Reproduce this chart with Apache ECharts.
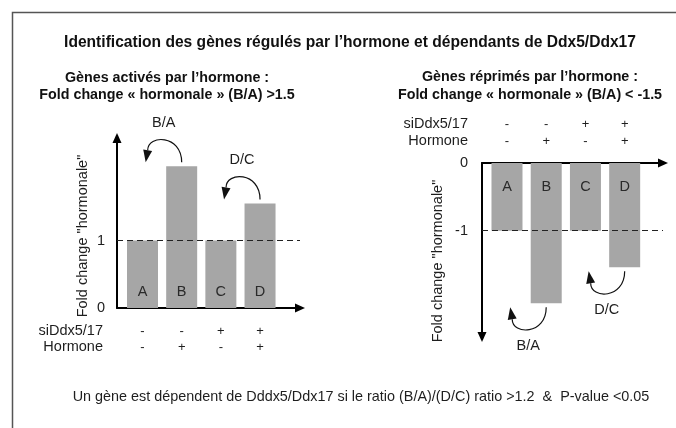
<!DOCTYPE html>
<html>
<head>
<meta charset="utf-8">
<script src="https://cdn.jsdelivr.net/npm/echarts@6/dist/echarts.min.js"></script>
<style>
  html, body { margin: 0; padding: 0; background: #ffffff; }
  #chart { width: 676px; height: 428px; }
</style>
</head>
<body>
<div id="chart"></div>
<script>
// Conditions A-D and their treatment rows
const categories = ['A', 'B', 'C', 'D'];
const siDdxRow = ['-', '-', '+', '+'];
const hormoneRow = ['-', '+', '-', '+'];

// Fold change "hormonale" per condition
const activatedValues = [1, 2.1, 1, 1.55];
const repressedValues = [-1, -2.07, -1, -1.54];

// Labelled ticks and the reference level of each panel
const activatedTicks = [0, 1];
const repressedTicks = [0, -1];
const activatedLevel = 1;
const repressedLevel = -1;

// Ratios pointed out by the curved arrows: [numerator, denominator] indices
const ratioPairs = [[1, 0], [3, 2]];

const FONT = "'Liberation Sans', Arial, sans-serif";
const INK = '#1e1e1e';
const BAR = '#a6a6a6';

const positions = categories.map((c, i) => i + 1);

function valueAxisLine(symbol) {
  return {
    show: true,
    onZero: false,
    symbol: symbol,
    symbolSize: [9, 10],
    lineStyle: { color: '#000', width: 2 }
  };
}

function signLabels(margin, lineHeight) {
  return {
    show: true,
    customValues: positions,
    margin: margin,
    lineHeight: lineHeight,
    fontSize: 13,
    fontFamily: FONT,
    color: INK,
    formatter: v => siDdxRow[Math.round(v) - 1] + '\n' + hormoneRow[Math.round(v) - 1]
  };
}

function barSeries(gridIdx, values, level, labelPos, labelDist) {
  return {
    type: 'bar',
    xAxisIndex: gridIdx,
    yAxisIndex: gridIdx,
    barWidth: 31,
    data: values.map((v, i) => [positions[i], v]),
    itemStyle: { color: BAR },
    label: {
      show: true,
      position: labelPos,
      distance: labelDist,
      fontSize: 14.5,
      fontFamily: FONT,
      color: '#2a2a2a',
      formatter: p => categories[p.dataIndex]
    },
    markLine: {
      silent: true,
      symbol: ['none', 'none'],
      label: { show: false },
      lineStyle: { color: '#222', width: 1, type: [6, 4] },
      data: [{ yAxis: level }]
    }
  };
}

const option = {
  animation: false,
  backgroundColor: '#ffffff',
  grid: [
    { left: 117, top: 138, width: 183, height: 170, outerBoundsMode: 'none' },
    { left: 482, top: 163, width: 181, height: 174, outerBoundsMode: 'none' }
  ],
  xAxis: [
    {
      type: 'value', gridIndex: 0, min: 0.349, max: 5.02,
      axisLine: valueAxisLine(['none', 'triangle']),
      axisTick: { show: false }, splitLine: { show: false },
      axisLabel: signLabels(15, 16)
    },
    {
      type: 'value', gridIndex: 1, position: 'top', min: 0.363, max: 4.977,
      axisLine: valueAxisLine(['none', 'triangle']),
      axisTick: { show: false }, splitLine: { show: false },
      axisLabel: signLabels(13.5, 17)
    }
  ],
  yAxis: [
    {
      type: 'value', gridIndex: 0, min: 0, max: 2.52,
      axisLine: valueAxisLine(['none', 'triangle']),
      axisTick: { show: false }, splitLine: { show: false },
      axisLabel: { customValues: activatedTicks, margin: 12, fontSize: 14.5, fontFamily: FONT, color: INK }
    },
    {
      type: 'value', gridIndex: 1, min: -2.57, max: 0,
      axisLine: valueAxisLine(['triangle', 'none']),
      axisTick: { show: false }, splitLine: { show: false },
      axisLabel: { customValues: repressedTicks, margin: 14, fontSize: 14.5, fontFamily: FONT, color: INK }
    }
  ],
  series: [
    barSeries(0, activatedValues, activatedLevel, 'insideBottom', 9),
    barSeries(1, repressedValues, repressedLevel, 'insideTop', 16)
  ]
};

const chart = echarts.init(document.getElementById('chart'));
chart.setOption(option);

function text(x, y, str, opts) {
  opts = opts || {};
  return {
    type: 'text',
    x: x, y: y,
    rotation: opts.rotation || 0,
    silent: true,
    style: {
      text: str,
      fill: opts.fill || INK,
      font: (opts.weight || 'normal') + ' ' + (opts.size || 14.5) + 'px ' + FONT,
      align: opts.align || 'center',
      verticalAlign: 'middle'
    }
  };
}

// Curved arrow from the numerator bar towards the denominator bar
function ratioArrow(gridIdx, values, pair) {
  const [num, den] = pair;
  const v = values[num];
  const dir = v < 0 ? 1 : -1;
  const p = chart.convertToPixel({ gridIndex: gridIdx }, [positions[num], v]);
  const sx = p[0], sy = p[1] + dir * 4;
  const tip = [sx - 36, sy];
  const base = [tip[0] + 2, sy + dir * 12];
  const bulge = sy + dir * 28;
  const dx = tip[0] - base[0], dy = tip[1] - base[1];
  const len = Math.hypot(dx, dy);
  const nx = -dy / len * 4.5, ny = dx / len * 4.5;
  return [
    {
      type: 'bezierCurve', silent: true,
      shape: { x1: sx, y1: sy, cpx1: sx, cpy1: bulge, cpx2: base[0], cpy2: bulge, x2: base[0], y2: base[1] },
      style: { stroke: '#111', lineWidth: 1.2, fill: null }
    },
    {
      type: 'polygon', silent: true,
      shape: { points: [tip, [base[0] + nx, base[1] + ny], [base[0] - nx, base[1] - ny]] },
      style: { fill: '#111' }
    },
    text(sx - 18, sy + dir * 39, categories[num] + '/' + categories[den])
  ];
}

const graphics = [
  {
    type: 'polyline', silent: true,
    shape: { points: [[12.5, 428], [12.5, 12.5], [676, 12.5]] },
    style: { stroke: '#555', lineWidth: 1.5, fill: null }
  },
  text(350, 43, 'Identification des gènes régulés par l\u2019hormone et dépendants de Ddx5/Ddx17', { weight: 'bold', size: 15.6, fill: '#111' }),
  text(167, 78, 'Gènes activés par l\u2019hormone :', { weight: 'bold', size: 14.3, fill: '#111' }),
  text(167, 95, 'Fold change « hormonale » (B/A) >1.5', { weight: 'bold', size: 14.3, fill: '#111' }),
  text(530, 77, 'Gènes réprimés par l\u2019hormone :', { weight: 'bold', size: 14.3, fill: '#111' }),
  text(530, 95, 'Fold change « hormonale » (B/A) < -1.5', { weight: 'bold', size: 14.3, fill: '#111' }),
  text(83, 236, 'Fold change "hormonale"', { rotation: Math.PI / 2 }),
  text(438, 261, 'Fold change "hormonale"', { rotation: Math.PI / 2 }),
  text(103, 331, 'siDdx5/17', { align: 'right' }),
  text(103, 347, 'Hormone', { align: 'right' }),
  text(468, 124, 'siDdx5/17', { align: 'right' }),
  text(468, 141, 'Hormone', { align: 'right' }),
  text(361, 397, 'Un gène est dépendent de Dddx5/Ddx17 si le ratio (B/A)/(D/C) ratio >1.2  &  P-value <0.05', { size: 14.4 })
];

ratioPairs.forEach(pair => {
  graphics.push(...ratioArrow(0, activatedValues, pair));
  graphics.push(...ratioArrow(1, repressedValues, pair));
});

chart.setOption({ graphic: graphics });
</script>
</body>
</html>
